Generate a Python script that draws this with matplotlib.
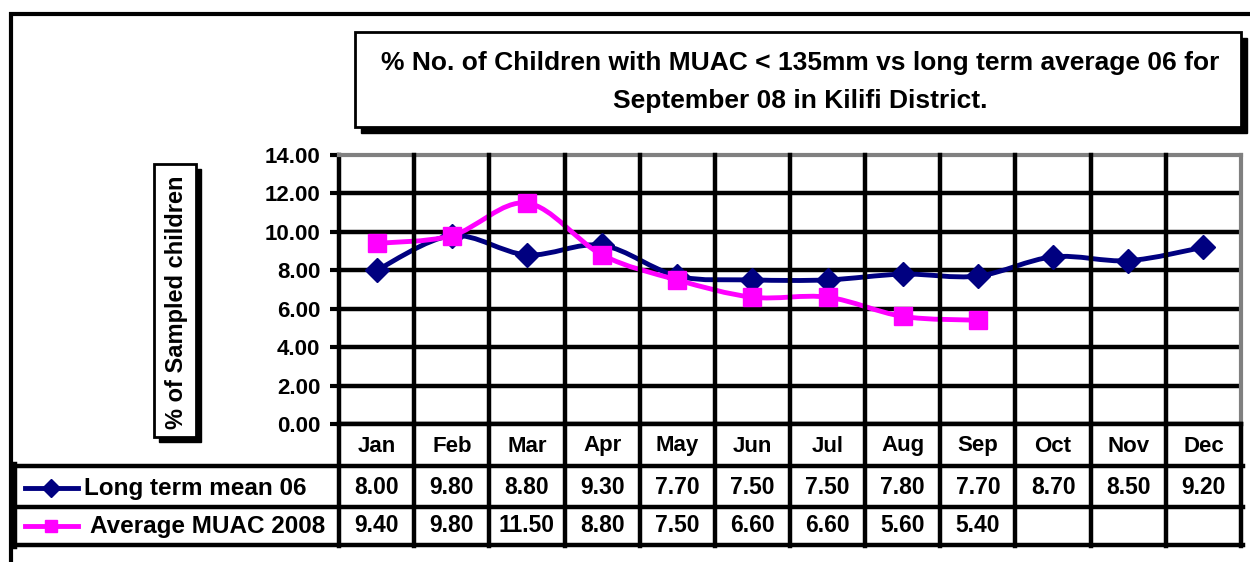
import numpy as np
import matplotlib
matplotlib.use('Agg')
import matplotlib.pyplot as plt
import matplotlib.transforms as mtransforms
from matplotlib.path import Path
from matplotlib.patches import PathPatch, Rectangle
from matplotlib.lines import Line2D

plt.rcParams['font.family'] = ['Liberation Sans', 'DejaVu Sans']

#%% data
months = ['Jan', 'Feb', 'Mar', 'Apr', 'May', 'Jun', 'Jul', 'Aug', 'Sep', 'Oct', 'Nov', 'Dec']
long_term = [8.00, 9.80, 8.80, 9.30, 7.70, 7.50, 7.50, 7.80, 7.70, 8.70, 8.50, 9.20]
muac_2008 = [9.40, 9.80, 11.50, 8.80, 7.50, 6.60, 6.60, 5.60, 5.40]
yticks = [0, 2, 4, 6, 8, 10, 12, 14]

name_long = 'Long term mean 06'
name_muac = 'Average MUAC 2008'
title = '% No. of Children with MUAC < 135mm vs long term average 06 for\nSeptember 08 in Kilifi District.'
ylabel = '% of Sampled children'

navy = '#000080'
magenta = '#FF00FF'

W, H = 1250, 562
def fx(x): return x / W
def fy(y): return 1 - y / H

def smooth_path(xs, ys):
    # excel style smoothed line as bezier segments
    pts = np.column_stack([xs, ys]).astype(float)
    verts = [pts[0]]
    codes = [Path.MOVETO]
    for i in range(len(pts) - 1):
        p0 = pts[i - 1] if i > 0 else pts[i]
        p3 = pts[i + 2] if i + 2 < len(pts) else pts[i + 1]
        c1 = pts[i] + (pts[i + 1] - p0) / 6
        c2 = pts[i + 1] - (p3 - pts[i]) / 6
        verts += [c1, c2, pts[i + 1]]
        codes += [Path.CURVE4] * 3
    return Path(verts, codes)

fig = plt.figure(figsize=(12.5, 5.62), dpi=100)

#%% plot area
left, right, top, bottom = 339, 1241, 155, 424
ax = fig.add_axes([fx(left), fy(bottom), (right - left) / W, (bottom - top) / H])
ax.set_xlim(0, 12)
ax.set_ylim(0, 14)
ax.set_yticks(yticks)
ax.set_yticklabels(['%.2f' % v for v in yticks], fontsize=16, fontweight='bold')
ax.set_xticks([])
ax.tick_params(axis='y', length=6.5, width=3, pad=7)
for v in yticks[:-1]:
    ax.axhline(v, color='black', lw=3.2, zorder=1)
for s in ['top', 'right']:
    ax.spines[s].set_color('#808080')
    ax.spines[s].set_linewidth(3)
ax.spines['left'].set_linewidth(3.2)
ax.spines['bottom'].set_linewidth(3.2)

x_long = np.arange(len(long_term)) + 0.5
x_muac = np.arange(len(muac_2008)) + 0.5

ax.add_patch(PathPatch(smooth_path(x_long, long_term), fill=False, edgecolor=navy, lw=3.5, zorder=3))
ax.plot(x_long, long_term, ls='none', marker='D', ms=12, color=navy, zorder=4)
ax.add_patch(PathPatch(smooth_path(x_muac, muac_2008), fill=False, edgecolor=magenta, lw=3.5, zorder=5))
ax.plot(x_muac, muac_2008, ls='none', marker='s', ms=12.5, color=magenta, zorder=6)

#%% data table under the plot
tr = mtransforms.blended_transform_factory(ax.transData, fig.transFigure)
for i in range(len(months) + 1):
    if 0 < i < len(months):
        fig.add_artist(Line2D([i, i], [fy(top), fy(bottom)], transform=tr, color='black', lw=3.2))
    fig.add_artist(Line2D([i, i], [fy(bottom), fy(546)], transform=tr, color='black', lw=3.2))
for yy in [466, 507, 545]:
    fig.add_artist(Line2D([fx(15), fx(1243)], [fy(yy), fy(yy)], color='black', lw=3.2))
fig.add_artist(Line2D([fx(15), fx(15)], [fy(464), fy(547)], color='black', lw=3.2))

for i, m in enumerate(months):
    fig.text(i + 0.5, fy(446), m, transform=tr, ha='center', va='center', fontsize=16, fontweight='bold')
for i, v in enumerate(long_term):
    fig.text(i + 0.5, fy(487), '%.2f' % v, transform=tr, ha='center', va='center', fontsize=16.5, fontweight='bold')
for i, v in enumerate(muac_2008):
    fig.text(i + 0.5, fy(526), '%.2f' % v, transform=tr, ha='center', va='center', fontsize=16.5, fontweight='bold')

# legend keys in the table
fig.add_artist(Line2D([fx(25), fx(78)], [fy(488), fy(488)], color=navy, lw=3.5))
fig.add_artist(Line2D([fx(51)], [fy(488)], ls='none', marker='D', ms=9, color=navy))
fig.add_artist(Line2D([fx(25), fx(78)], [fy(526), fy(526)], color=magenta, lw=3.5))
fig.add_artist(Line2D([fx(51)], [fy(526)], ls='none', marker='s', ms=9, color=magenta))
fig.text(fx(84), fy(489), name_long, ha='left', va='center', fontsize=17.5, fontweight='bold')
fig.text(fx(90), fy(527), name_muac, ha='left', va='center', fontsize=17.5, fontweight='bold')

#%% boxes with shadow
def shadow_box(x0, y0, x1, y1, off=6):
    fig.add_artist(Rectangle((fx(x0 + off), fy(y1 + off)), (x1 - x0) / W, (y1 - y0) / H,
                             transform=fig.transFigure, facecolor='black', edgecolor='black'))
    fig.add_artist(Rectangle((fx(x0), fy(y1)), (x1 - x0) / W, (y1 - y0) / H,
                             transform=fig.transFigure, facecolor='white', edgecolor='black', lw=2))

shadow_box(355, 32, 1241, 127)
fig.text(fx(800), fy(82), title, ha='center', va='center', fontsize=19, fontweight='bold', linespacing=1.7)

shadow_box(154, 164, 196, 437, off=5)
fig.text(fx(176), fy(302), ylabel, ha='center', va='center', rotation=90, fontsize=17, fontweight='bold')

fig.text(fx(470), fy(353), '`', ha='center', va='center', fontsize=12)

# outer frame
fig.add_artist(Line2D([fx(9), fx(1250)], [fy(14), fy(14)], color='black', lw=3, solid_capstyle='butt'))
fig.add_artist(Line2D([fx(11), fx(11)], [fy(12), fy(562)], color='black', lw=3, solid_capstyle='butt'))

fig.savefig('out.png', dpi=100)
